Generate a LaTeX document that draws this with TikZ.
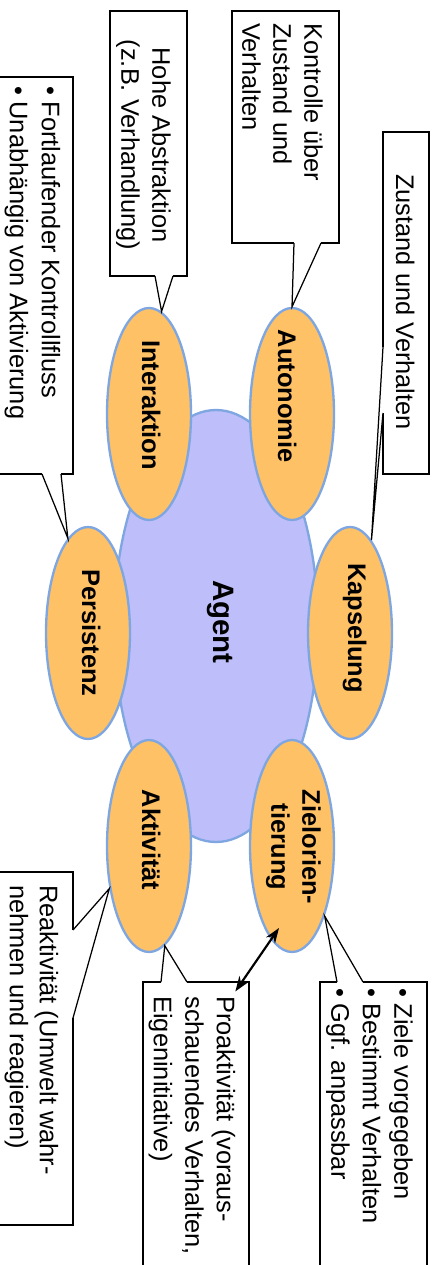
\documentclass[tikz,border=0pt]{standalone}
\usepackage{fontspec}
\setmainfont{Liberation Sans}
\usetikzlibrary{shapes.geometric,arrows.meta,calc,fit}
\definecolor{petal}{RGB}{255,193,102}
\definecolor{rim}{RGB}{126,166,224}
\definecolor{core}{RGB}{190,190,250}
\newcommand\itemdot{\textbullet\hspace{3.8pt}}
% callout pointer: base point, tip, base point
\newcommand\pointer[3]{%
  \fill[white] (#1) -- (#2) -- (#3) -- cycle;
  \draw[white, line width=1.3pt] (#1) -- (#3);
  \draw[wedge] (#1) -- (#2) -- (#3);
}
\tikzset{
  trait/.style={ellipse, draw=rim, fill=petal, line width=1.4pt,
    minimum width=50.4pt, minimum height=127.2pt, inner sep=0pt},
  hub/.style={ellipse, draw=rim, fill=core, line width=1.4pt,
    minimum width=122.4pt, minimum height=259.2pt, inner sep=0pt},
  tag/.style={rotate=-90, inner sep=0pt,
    font=\fontsize{15.24}{18.6}\selectfont\bfseries},
  note/.style={rotate=-90, inner sep=0pt,
    font=\fontsize{15.24}{18.6}\selectfont},
  notebox/.style={draw=black, line width=0.75pt, fill=white, inner sep=0pt},
  wedge/.style={draw=black, line width=0.75pt, line join=miter},
  twoway/.style={{Stealth[length=9pt,width=6.5pt]}-{Stealth[length=9pt,width=6.5pt]},
    line width=1.3pt}
}
\begin{document}
\begin{tikzpicture}[x=0.6pt,y=-0.6pt]
\useasboundingbox (0,0) rectangle (441,1265);
\clip (0,0) rectangle (441,1265);

% central agent and its properties
\node[hub] (agent) at (216,626) {};
\node[trait] (auto) at (292,414) {};
\node[trait] (inter) at (149,414) {};
\node[trait] (kaps) at (350,633) {};
\node[trait] (pers) at (88,633) {};
\node[trait] (ziel) at (292,846) {};
\node[trait] (akt) at (149,846) {};

\node[tag, anchor=base, font=\fontsize{17.7}{21}\selectfont\bfseries] (agentT) at (213,622) {Agent};
\node[tag, anchor=base] (autoT) at (278,396) {Autonomie};
\node[tag, anchor=base] (interT) at (142,405) {Interaktion};
\node[tag, anchor=base] (kapsT) at (348,628) {Kapselung};
\node[tag, anchor=base] (persT) at (82,633) {Persistenz};
\node[tag, anchor=base] (aktT) at (142,840) {Aktivität};
\node[tag, anchor=north, align=center] (zielT) at (321,847) {Zielorien-\\tierung};

% explanation boxes
\node[notebox, fit={(232,11) (339,243)}] (boxA) {};
\node[notebox, fit={(110,11) (187,276)}] (boxB) {};
\node[notebox, fit={(383,132) (429,474)}] (boxC) {};
\node[notebox, fit={(-5,77) (73,474)}] (boxD) {};
\node[notebox, fit={(320,982) (427,1280)}] (boxE) {};
\node[notebox, fit={(143,982) (249,1280)}] (boxF) {};
\node[notebox, fit={(-5,872) (73,1225)}] (boxG) {};

% pointers from the boxes to the properties
\coordinate (a1) at (294,243); \coordinate (a2) at (321,243);
\coordinate (b1) at (155,276); \coordinate (b2) at (173,276);
\coordinate (c1) at (383,347); \coordinate (c2) at (383,413);
\coordinate (d1) at (42,474);  \coordinate (d2) at (61,474);
\coordinate (e1) at (337,982); \coordinate (e2) at (363,982);
\coordinate (f1) at (161,982); \coordinate (f2) at (187,982);
\coordinate (g1) at (73,930);  \coordinate (g2) at (73,1018);
\pointer{a1}{auto.north}{a2}
\pointer{b1}{inter.83}{b2}
\pointer{c1}{kaps.77}{c2}
\pointer{d1}{pers.102}{d2}
\pointer{e1}{ziel.-65}{e2}
\pointer{f1}{akt.-81}{f2}
\pointer{g1}{akt.227}{g2}

\node[note, anchor=north west, align=left] (noteA) at (323,23)
  {Kontrolle über\\Zustand und\\Verhalten};
\node[note, anchor=north, align=center] (noteB) at (171,145)
  {Hohe Abstraktion\\(z.B. Verhandlung)};
\node[note, anchor=base] (noteC) at (396,302) {Zustand und Verhalten};
\node[note, anchor=north west, align=left,
  font=\fontsize{15.24}{19.2}\selectfont] (noteD) at (60.5,86)
  {\itemdot Fortlaufender Kontrollfluss\\\itemdot Unabhängig von Aktivierung};
\node[note, anchor=north west, align=left,
  font=\fontsize{15.24}{18.9}\selectfont] (noteE) at (413,988)
  {\itemdot Ziele vorgegeben\\\itemdot Bestimmt Verhalten\\\itemdot Ggf. anpassbar};
\node[note, anchor=north west, align=left,
  font=\fontsize{15.24}{18.9}\selectfont] (noteF) at (235.5,996)
  {Proaktivität (voraus-\\schauendes Verhalten,\\Eigeninitiative)};
\node[note, anchor=north west, align=left,
  font=\fontsize{15.24}{18}\selectfont] (noteG) at (58.5,885)
  {Reaktivität (Umwelt wahr-\\nehmen und reagieren)};

% goal orientation leads to proactivity
\coordinate (zA) at ($(ziel.center)+(-13,82)$);
\coordinate (pA) at ($(boxF.north west)+(93,10)$);
\draw[twoway] (zA) -- (pA);
\end{tikzpicture}
\end{document}
